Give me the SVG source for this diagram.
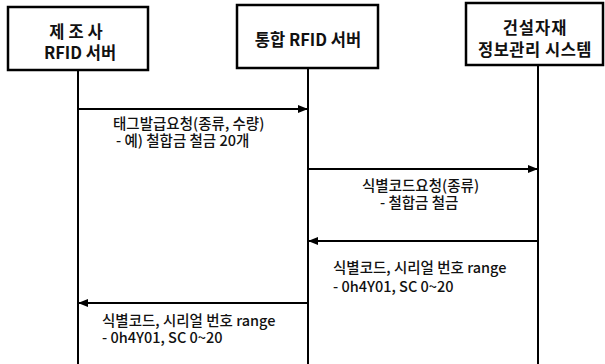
<svg xmlns="http://www.w3.org/2000/svg" width="605" height="364" viewBox="0 0 605 364">
<style>
.box{fill:#fff;stroke:#000;stroke-width:2.5}
.life{stroke:#000;stroke-width:2;fill:none}
.msg{stroke:#000;stroke-width:2;fill:none}
.bt{font-family:"Noto Sans CJK KR","Noto Sans",sans-serif;font-weight:bold;font-size:16.5px;fill:#111;text-anchor:middle}
.lt{font-family:"Noto Sans CJK KR","Noto Sans",sans-serif;font-weight:500;font-size:14.5px;fill:#111}
</style>
<defs>
<marker id="ah" markerWidth="10" markerHeight="8" refX="9" refY="4" orient="auto" markerUnits="userSpaceOnUse">
<path d="M0,0 L10,4 L0,8 Z" fill="#000"/>
</marker>
</defs>
<rect width="605" height="364" fill="#fff"/>
<g id="lifelines">
<line class="life" x1="78" y1="70" x2="78" y2="364"/>
<line class="life" x1="308" y1="68" x2="308" y2="364"/>
<line class="life" x1="538" y1="65" x2="538" y2="364"/>
</g>
<g id="node-manufacturer">
<rect class="box" x="8" y="7" width="140" height="63"/>
<text class="bt"><tspan x="78" y="38" letter-spacing="4">제조사</tspan><tspan x="80" y="59">RFID 서버</tspan></text>
</g>
<g id="node-integrated">
<rect class="box" x="237" y="5" width="141" height="63"/>
<text class="bt" x="308" y="46">통합 RFID 서버</text>
</g>
<g id="node-construction">
<rect class="box" x="466" y="3" width="137" height="62"/>
<text class="bt"><tspan x="535" y="34" letter-spacing="1">건설자재</tspan><tspan x="535" y="56" letter-spacing="0.5">정보관리 시스템</tspan></text>
</g>
<g id="connectors">
<line class="msg" x1="78" y1="109" x2="307" y2="109" marker-end="url(#ah)"/>
<line class="msg" x1="308" y1="169" x2="537" y2="169" marker-end="url(#ah)"/>
<line class="msg" x1="538" y1="241" x2="309" y2="241" marker-end="url(#ah)"/>
<line class="msg" x1="308" y1="303" x2="79" y2="303" marker-end="url(#ah)"/>
</g>
<g id="labels">
<text class="lt"><tspan x="113" y="129">태그발급요청(종류, 수량)</tspan><tspan x="116" y="146">- 예) 철합금 철금 20개</tspan></text>
<text class="lt"><tspan x="362" y="191">식별코드요청(종류)</tspan><tspan x="380" y="208">- 철합금 철금</tspan></text>
<text class="lt"><tspan x="333" y="273">식별코드, 시리얼 번호 range</tspan><tspan x="333" y="292">- 0h4Y01, SC 0~20</tspan></text>
<text class="lt"><tspan x="102" y="326">식별코드, 시리얼 번호 range</tspan><tspan x="102" y="343">- 0h4Y01, SC 0~20</tspan></text>
</g>
</svg>
